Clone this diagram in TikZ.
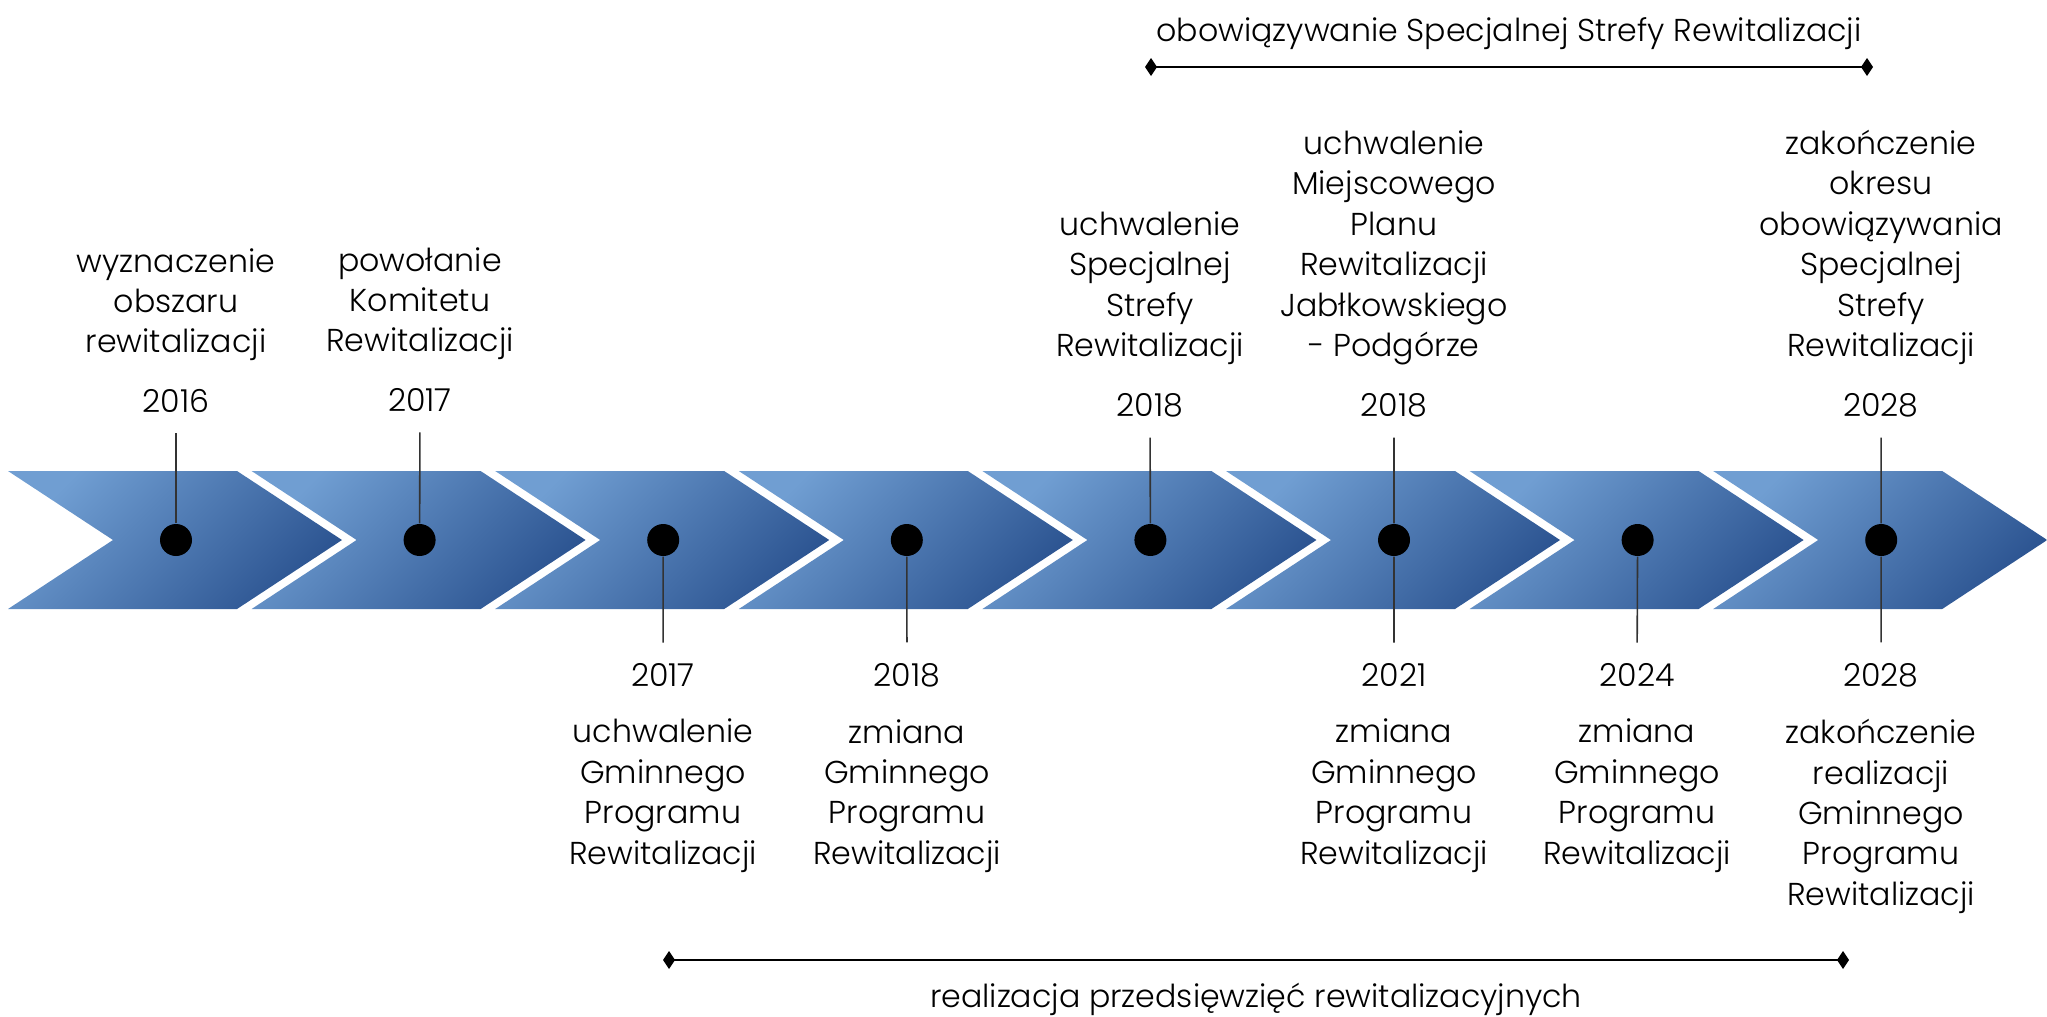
\documentclass[tikz,border=0pt]{standalone}
\usepackage{fontspec}
\setmainfont{Poppins Light}
\usetikzlibrary{positioning,arrows.meta}
\definecolor{chevlight}{RGB}{112,158,210}
\definecolor{chevdark}{RGB}{44,84,145}
\tikzset{
  chevron/.style={top color=chevlight,bottom color=chevdark,shading angle=45},
  dot/.style={circle,fill=black,inner sep=0pt,minimum size=3.2mm},
  stem/.style={draw=black!80,line width=0.45pt},
  year/.style={inner sep=0.2cm},
  lbl/.style={align=center,inner sep=0pt,execute at begin node=\strut,execute at end node=\strut},
  span/.style={line width=0.6pt,{Diamond[length=1.2mm,width=1.8mm]}-{Diamond[length=1.2mm,width=1.8mm]}}
}
\begin{document}
\begin{tikzpicture}[x=1cm,y=-1cm,font=\fontsize{9}{11.5}\selectfont]
	\useasboundingbox (0,0) rectangle (20.47,10.16);
	% strzalki
	\foreach \i in {0,...,7}{
		\pgfmathsetmacro\xa{0.08+2.436*\i}
		\shade[chevron] (\xa,4.71)--++(2.29,0)--++(1.05,0.69)--++(-1.05,0.69)--++(-2.29,0)--++(1.05,-0.69)--cycle;
		\pgfmathsetmacro\xd{1.76+2.436*\i}
		\node[dot] (d\i) at (\xd,5.40) {};
	}
	% gora
	\node[year] (t0) at (1.76,4.01) {2016};
	\node[lbl,above=0.03cm of t0] {wyznaczenie\\obszaru\\rewitalizacji};
	\node[year] (t1) at (4.20,4.00) {2017};
	\node[lbl,above=0.03cm of t1] {powołanie\\Komitetu\\Rewitalizacji};
	\node[year] (t4) at (11.50,4.05) {2018};
	\node[lbl,above=0.03cm of t4] {uchwalenie\\Specjalnej\\Strefy\\Rewitalizacji};
	\node[year] (t5) at (13.94,4.05) {2018};
	\node[lbl,above=0.03cm of t5] {uchwalenie\\Miejscowego\\Planu\\Rewitalizacji\\Jabłkowskiego\\- Podgórze};
	\node[year] (t7) at (18.81,4.05) {2028};
	\node[lbl,above=0.03cm of t7] {zakończenie\\okresu\\obowiązywania\\Specjalnej\\Strefy\\Rewitalizacji};
	\foreach \i in {0,1,4,5,7} \draw[stem] (d\i)--(t\i);
	% dol
	\node[year] (b2) at (6.63,6.75) {2017};
	\node[lbl,below=0.11cm of b2] {uchwalenie\\Gminnego\\Programu\\Rewitalizacji};
	\node[year] (b3) at (9.07,6.75) {2018};
	\node[lbl,below=0.11cm of b3] {zmiana\\Gminnego\\Programu\\Rewitalizacji};
	\node[year] (b5) at (13.94,6.75) {2021};
	\node[lbl,below=0.11cm of b5] {zmiana\\Gminnego\\Programu\\Rewitalizacji};
	\node[year] (b6) at (16.37,6.75) {2024};
	\node[lbl,below=0.11cm of b6] {zmiana\\Gminnego\\Programu\\Rewitalizacji};
	\node[year] (b7) at (18.81,6.75) {2028};
	\node[lbl,below=0.11cm of b7] {zakończenie\\realizacji\\Gminnego\\Programu\\Rewitalizacji};
	\foreach \i in {2,3,5,6,7} \draw[stem] (d\i)--(b\i);
	% okresy
	\coordinate (sa) at (11.45,0.67);
	\coordinate (sb) at (18.73,0.67);
	\draw[span] (sa)--node[lbl,above=0.12cm] {obowiązywanie Specjalnej Strefy Rewitalizacji}(sb);
	\coordinate (ra) at (6.63,9.60);
	\coordinate (rb) at (18.49,9.60);
	\draw[span] (ra)--node[lbl,below=0.18cm] {realizacja przedsięwzięć rewitalizacyjnych}(rb);
\end{tikzpicture}
\end{document}
